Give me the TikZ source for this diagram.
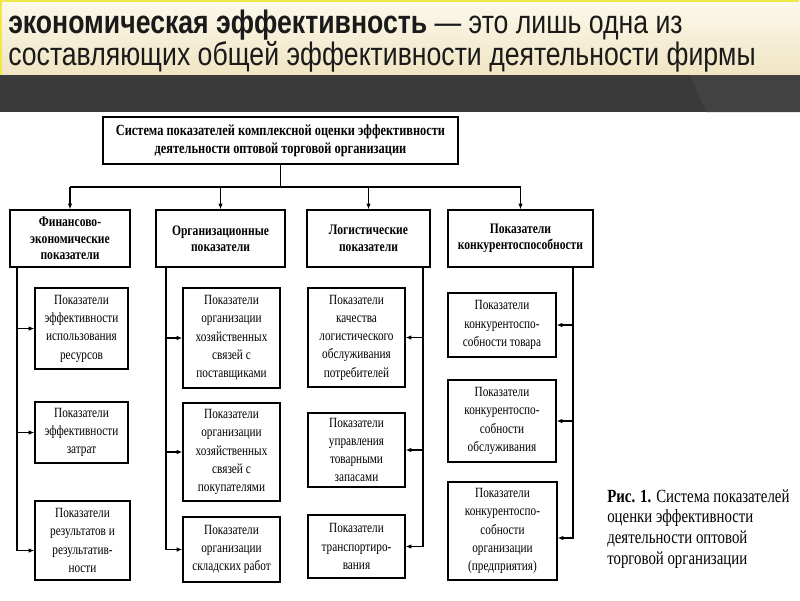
\documentclass[tikz,border=0pt]{standalone}
\usepackage{fontspec}
\setmainfont{Liberation Serif}[FakeStretch=0.8]
\newfontfamily\slidefont{Liberation Sans}[FakeStretch=0.82]
\usetikzlibrary{arrows.meta}
\definecolor{bandpale}{RGB}{252,249,236}
\definecolor{bandwarm}{RGB}{240,229,195}
\definecolor{bandedge}{RGB}{240,232,70}
\definecolor{slidedark}{RGB}{58,58,58}
\definecolor{slidedarklight}{RGB}{66,66,66}
\definecolor{headink}{RGB}{26,26,26}

\begin{document}
\begin{tikzpicture}[x=0.025cm,y=-0.025cm,>={Latex[length=4pt,width=3.2pt]},
  itembox/.style={draw,line width=0.9pt,align=center,inner sep=1pt,font=\fontsize{10}{13}\selectfont},
  groupbox/.style={draw,line width=1pt,align=center,inner sep=1pt,font=\bfseries\fontsize{10.3}{11.7}\selectfont},
  link/.style={line width=0.8pt}]
  \useasboundingbox (0,0) rectangle (800,600);
  % slide header
  \fill[top color=bandpale,bottom color=bandwarm] (0,0) rectangle (800,75);
  \draw[bandedge,line width=2pt] (1,75) -- (1,1) -- (799,1);
  \fill[slidedark] (0,75) rectangle (800,112);
  \fill[slidedarklight] (690,75) -- (800,75) -- (800,112) -- (706,112) -- cycle;
  \node[anchor=base west,inner sep=0pt,text=headink,font=\slidefont\fontsize{23.1}{23.1}\selectfont] (head1) at (8,33)
    {\textbf{экономическая эффективность} — это лишь одна из};
  \node[anchor=base west,inner sep=0pt,text=headink,font=\slidefont\fontsize{23.1}{23.1}\selectfont] (head2) at (8,65)
    {составляющих общей эффективности деятельности фирмы};

  % top of the scheme
  \node[groupbox,font=\bfseries\fontsize{11}{13}\selectfont,minimum width=8.875cm,minimum height=1.175cm] (system) at (280.5,140.5)
    {Система показателей комплексной оценки эффективности\\деятельности оптовой торговой организации};
  \node[groupbox,minimum width=3.0cm,minimum height=1.425cm] (fin) at (70,238.5)
    {Финансово-\\экономические\\показатели};
  \node[groupbox,minimum width=3.225cm,minimum height=1.425cm] (org) at (220.5,238.5)
    {Организационные\\показатели};
  \node[groupbox,minimum width=3.075cm,minimum height=1.425cm] (logi) at (368.5,238.5)
    {Логистические\\показатели};
  \node[groupbox,minimum width=3.625cm,minimum height=1.425cm] (compet) at (520.5,238.5)
    {Показатели\\конкурентоспособности};

  \coordinate (bus) at (280.5,187);
  \draw[link] (system.south) -- (bus);
  \draw[link] (fin.north |- bus) -- (compet.north |- bus);
  \foreach \g in {fin,org,logi,compet}
    \draw[link,->] (\g.north |- bus) -- (\g.north);

  % first column
  \node[itembox,minimum width=2.325cm,minimum height=2.025cm] (fin1) at (81.5,328.5)
    {Показатели\\эффективности\\использования\\ресурсов};
  \node[itembox,minimum width=2.325cm,minimum height=1.525cm] (fin2) at (81.5,432.5)
    {Показатели\\эффективности\\затрат};
  \node[itembox,minimum width=2.375cm,minimum height=1.975cm] (fin3) at (82.5,540.5)
    {Показатели\\результатов и\\результатив-\\ности};
  % second column
  \node[itembox,minimum width=2.425cm,minimum height=2.5cm] (org1) at (231.5,338)
    {Показатели\\организации\\хозяйственных\\связей с\\поставщиками};
  \node[itembox,minimum width=2.425cm,minimum height=2.45cm] (org2) at (231.5,452)
    {Показатели\\организации\\хозяйственных\\связей с\\покупателями};
  \node[itembox,minimum width=2.425cm,minimum height=1.625cm] (org3) at (231.5,549.5)
    {Показатели\\организации\\складских работ};
  % third column
  \node[itembox,minimum width=2.425cm,minimum height=2.475cm] (logi1) at (356.5,337.5)
    {Показатели\\качества\\логистического\\обслуживания\\потребителей};
  \node[itembox,minimum width=2.425cm,minimum height=1.85cm] (logi2) at (356.5,450)
    {Показатели\\управления\\товарными\\запасами};
  \node[itembox,minimum width=2.425cm,minimum height=1.575cm] (logi3) at (356.5,546.5)
    {Показатели\\транспортиро-\\вания};
  % fourth column
  \node[itembox,minimum width=2.7cm,minimum height=1.6cm] (compet1) at (502,325)
    {Показатели\\конкурентоспо-\\собности товара};
  \node[itembox,minimum width=2.7cm,minimum height=2.05cm] (compet2) at (502,421)
    {Показатели\\конкурентоспо-\\собности\\обслуживания};
  \node[itembox,minimum width=2.725cm,minimum height=2.45cm] (compet3) at (502.5,531)
    {Показатели\\конкурентоспо-\\собности\\организации\\(предприятия)};

  \coordinate (rail1) at (17,0);
  \coordinate (rail2) at (166,0);
  \coordinate (rail3) at (423,0);
  \coordinate (rail4) at (573,0);
  \draw[link,->] (rail1 |- fin.south) |- ([yshift=-0.25cm]fin3.west);
  \draw[link,->] (rail2 |- org.south) |- (org3.west);
  \draw[link,->] (rail3 |- logi.south) |- (logi3.east);
  \draw[link,->] (rail4 |- compet.south) |- ([yshift=-0.175cm]compet3.east);
  \foreach \b in {fin1,fin2}
    \draw[link,->] (rail1 |- \b.west) -- (\b.west);
  \foreach \b in {org1,org2}
    \draw[link,->] (rail2 |- \b.west) -- (\b.west);
  \foreach \b in {logi1,logi2}
    \draw[link,->] (rail3 |- \b.east) -- (\b.east);
  \foreach \b in {compet1,compet2}
    \draw[link,->] (rail4 |- \b.east) -- (\b.east);

  \node[anchor=north west,align=left,inner sep=0pt,font=\fontsize{13.2}{14.8}\selectfont] (caption) at (607,489)
    {\textbf{Рис. 1.} Система показателей\\оценки эффективности\\деятельности оптовой\\торговой организации};
\end{tikzpicture}
\end{document}
